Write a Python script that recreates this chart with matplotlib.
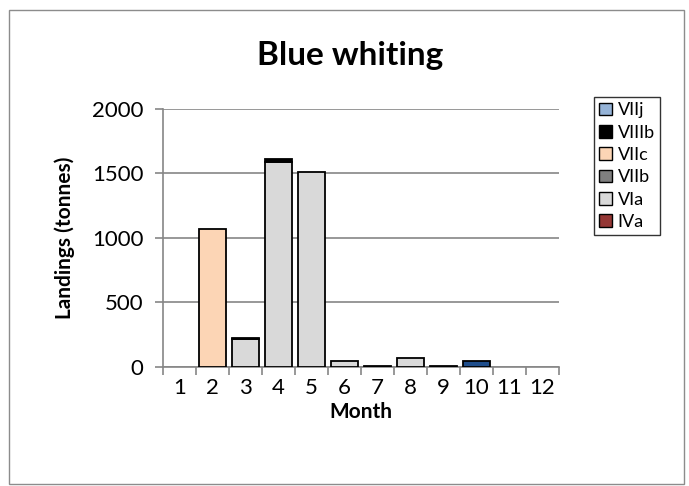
import numpy as np
import matplotlib
matplotlib.use("Agg")
import matplotlib.pyplot as plt
from matplotlib.patches import Rectangle

plt.rcParams["font.family"] = ["Lato", "DejaVu Sans"]

months = [1, 2, 3, 4, 5, 6, 7, 8, 9, 10, 11, 12]
month_labels = [str(m) for m in months]

# stacking order bottom -> top
ivA = [0, 0, 0, 0, 0, 0, 0, 0, 0, 0, 0, 0]
viA = [0, 0, 215, 1585, 1512, 47, 8, 73, 10, 0, 0, 0]
viiB = [0, 0, 0, 0, 0, 0, 0, 0, 0, 0, 0, 0]
viiC = [0, 1070, 0, 0, 0, 0, 0, 0, 0, 0, 0, 0]
viiiB = [0, 0, 10, 25, 0, 0, 0, 0, 0, 0, 0, 0]
viiJ = [0, 0, 0, 0, 0, 0, 0, 0, 0, 0, 0, 0]
other = [0, 0, 0, 0, 0, 0, 0, 0, 0, 46, 0, 0]

series = [
    ("IVa", ivA, "#953735"),
    ("VIa", viA, "#D9D9D9"),
    ("VIIb", viiB, "#7F7F7F"),
    ("VIIc", viiC, "#FCD5B5"),
    ("VIIIb", viiiB, "#000000"),
    ("VIIj", viiJ, "#95B3D7"),
    ("_nolegend_", other, "#1F4E8C"),
]

fig = plt.figure(figsize=(6.89, 4.86), dpi=100)
fig.patches.append(Rectangle((9 / 689, 2 / 486), 675 / 689, 474 / 486, transform=fig.transFigure,
                             fill=False, edgecolor="#8C8C8C", linewidth=1.0))
ax = fig.add_axes([0.2366, 0.2449, 0.5747, 0.5309])

bottom = np.zeros(len(months))
handles = []
for name, vals, col in series:
    vals = np.array(vals, dtype=float)
    mask = vals > 0
    ax.bar(np.array(months)[mask], vals[mask], bottom=bottom[mask], width=0.84,
           color=col, edgecolor="black", linewidth=1.3, zorder=3)
    if name != "_nolegend_":
        handles.append((Rectangle((0, 0), 1, 1, facecolor=col, edgecolor="black", linewidth=1.0), name))
    bottom += vals

ax.set_xlim(0.5, 12.5)
ax.set_ylim(0, 2000)
ax.set_yticks([0, 500, 1000, 1500, 2000])
ax.grid(axis="y", color="#868686", linewidth=1.2, zorder=0)
ax.set_xticks(months)
ax.set_xticklabels(month_labels)
ax.set_xticks(np.arange(0.5, 13, 1), minor=True)
ax.tick_params(axis="x", which="major", length=0, labelsize=16, pad=8)
ax.tick_params(axis="x", which="minor", length=6, color="#868686", width=1.2)
ax.tick_params(axis="y", length=6, color="#868686", width=1.2, labelsize=16, pad=8)
for s in ["top", "right"]:
    ax.spines[s].set_visible(False)
for s in ["left", "bottom"]:
    ax.spines[s].set_color("#868686")
    ax.spines[s].set_linewidth(1.2)

ax.set_xlabel("Month", fontsize=15, fontweight="bold", labelpad=3)
ax.set_ylabel("Landings (tonnes)", fontsize=15, fontweight="bold", labelpad=12)
fig.text(0.508, 0.885, "Blue whiting", ha="center", va="center", fontsize=24, fontweight="bold")

hs = [h for h, _ in reversed(handles)]
ls = [n for _, n in reversed(handles)]
leg = fig.legend(hs, ls, loc="upper left", bbox_to_anchor=(594 / 689, 1 - 97 / 486), fontsize=13,
                 frameon=True, fancybox=False, edgecolor="black", handlelength=0.7, handleheight=0.7,
                 handletextpad=0.3, labelspacing=0.35, borderpad=0.3, borderaxespad=0)
leg.get_frame().set_linewidth(1.0)

fig.savefig("out.png", dpi=100)
